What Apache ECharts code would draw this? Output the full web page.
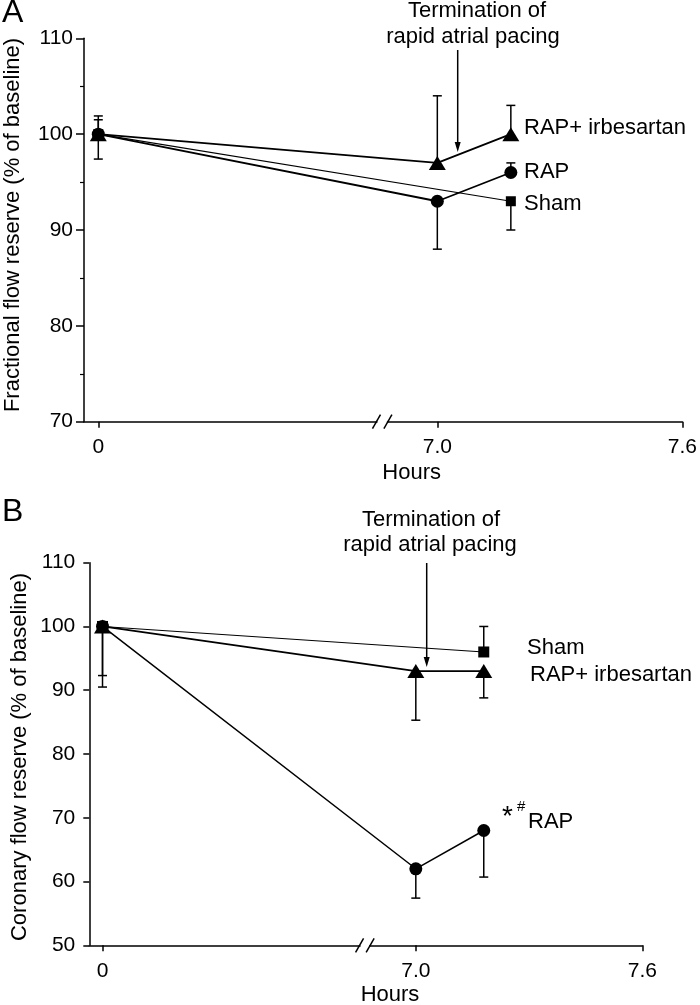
<!DOCTYPE html>
<html>
<head>
<meta charset="utf-8">
<script src="https://cdn.jsdelivr.net/npm/echarts@6/dist/echarts.min.js"></script>
<style>
  html, body { margin: 0; padding: 0; background: #fff; }
  #chart { width: 700px; height: 1005px; }
</style>
</head>
<body>
<div id="chart"></div>
<script>
// ---------------- DATA ----------------
const hours = [0, 7.0, 7.18];
const xTickValues = [0, 7.0, 7.6];
const xTickLabels = ['0', '7.0', '7.6'];

// Panel A: Fractional flow reserve (% of baseline)
const ffrSham = [100, null, 93];
const ffrRAP = [100, 93, 96];
const ffrIrb = [100, 97, 100];
// signed error (SEM) drawn from the mean
const ffrShamErr = [1.5, null, -3];
const ffrRAPErr = [-2.6, -5, 1];
const ffrIrbErr = [1.9, 7, 3];

// Panel B: Coronary flow reserve (% of baseline)
const cfrSham = [100, null, 96];
const cfrRAP = [100, 62, 68];
const cfrIrb = [100, 93, 93];
const cfrShamErr = [null, null, 4];
const cfrRAPErr = [-9.5, -4.6, -7.3];
const cfrIrbErr = [-7.7, -7.7, -4.2];

// ---------------- BROKEN AXIS MAPPING ----------------
// hours 0..7 are compressed into axis units 6.17..7; beyond 7 the axis is linear
const U0 = 6.17;
function toAxis(h) { return h >= 7 ? h : U0 + h * (7 - U0) / 7; }
const AX_MIN = 6.135, AX_MAX = 7.6;
const BREAK_POS = [6.851, 6.879];

const FONT = '"Liberation Sans", Arial, Helvetica, sans-serif';

function lineData(vals) {
  return vals.map((v, i) => [toAxis(hours[i]), v]);
}
function errData(vals, errs) {
  const out = [];
  vals.forEach((v, i) => {
    if (v != null && errs[i] != null) out.push([toAxis(hours[i]), v, v + errs[i]]);
  });
  return out;
}

const tickU = xTickValues.map(toAxis);
function tickLabel(v) {
  let best = 0;
  tickU.forEach((u, i) => { if (Math.abs(u - v) < Math.abs(tickU[best] - v)) best = i; });
  return xTickLabels[best];
}

function xAxisCfg(gridIndex) {
  return {
    type: 'value', gridIndex, min: AX_MIN, max: AX_MAX,
    splitLine: { show: false },
    axisLine: { show: true, lineStyle: { color: '#000', width: 1.5 } },
    axisTick: { show: true, customValues: tickU, length: 6, lineStyle: { color: '#000', width: 1.5 } },
    axisLabel: { show: true, customValues: tickU, formatter: tickLabel, color: '#000',
                 fontSize: 21, fontFamily: FONT, margin: 15 }
  };
}
function yAxisCfg(gridIndex, min, max, minor, tickLen, margin) {
  return {
    type: 'value', gridIndex, min, max, interval: 10,
    splitLine: { show: false },
    axisLine: { show: true, lineStyle: { color: '#000', width: 1.5 } },
    axisTick: { show: true, length: tickLen, lineStyle: { color: '#000', width: 1.5 } },
    minorTick: { show: minor, splitNumber: 2, length: 4, lineStyle: { color: '#000', width: 1.2 } },
    axisLabel: { color: '#000', fontSize: 21, fontFamily: FONT, margin }
  };
}

function lineSeries(name, vals, symbol, size, width, xi) {
  return {
    name, type: 'line', xAxisIndex: xi, yAxisIndex: xi,
    data: lineData(vals), connectNulls: true,
    symbol, symbolSize: size, showAllSymbol: true,
    itemStyle: { color: '#000' },
    lineStyle: { color: '#000', width },
    z: 5, animation: false
  };
}
function errSeries(vals, errs, xi) {
  return {
    type: 'custom', xAxisIndex: xi, yAxisIndex: xi,
    data: errData(vals, errs),
    encode: { x: 0, y: [1, 2] },
    z: 3, animation: false, silent: true,
    renderItem: function (params, api) {
      const p = api.coord([api.value(0), api.value(1)]);
      const e = api.coord([api.value(0), api.value(2)]);
      const w = 4.5;
      const st = { stroke: '#000', lineWidth: 1.5 };
      return { type: 'group', children: [
        { type: 'line', shape: { x1: p[0], y1: p[1], x2: e[0], y2: e[1] }, style: st },
        { type: 'line', shape: { x1: e[0] - w, y1: e[1], x2: e[0] + w, y2: e[1] }, style: st }
      ] };
    }
  };
}

function txt(text, x, y, size, align, extra) {
  return Object.assign({
    type: 'text', z: 100,
    style: { text, x, y, fill: '#000', font: size + 'px ' + FONT,
             textAlign: align || 'left', textVerticalAlign: 'middle' }
  }, extra || {});
}
function arrow(x, y1, y2) {
  return [
    { type: 'line', z: 100, shape: { x1: x, y1: y1, x2: x, y2: y2 - 8 }, style: { stroke: '#000', lineWidth: 1.5 } },
    { type: 'polygon', z: 100, shape: { points: [[x - 3, y2 - 10], [x + 3, y2 - 10], [x, y2]] }, style: { fill: '#000' } }
  ];
}

const TRI = [17, 14];
const option = {
  backgroundColor: '#fff',
  animation: false,
  grid: [
    { left: 84, top: 38.3, width: 599.3, height: 383.4 },
    { left: 89.3, top: 562.7, width: 553, height: 382.6 }
  ],
  xAxis: [xAxisCfg(0), xAxisCfg(1)],
  yAxis: [yAxisCfg(0, 70, 110, true, 8, 11), yAxisCfg(1, 50, 110, false, 6, 14)],
  series: [
    errSeries(ffrSham, ffrShamErr, 0),
    errSeries(ffrRAP, ffrRAPErr, 0),
    errSeries(ffrIrb, ffrIrbErr, 0),
    lineSeries('Sham', ffrSham, 'rect', 10, 1.1, 0),
    lineSeries('RAP', ffrRAP, 'circle', 13, 1.8, 0),
    lineSeries('RAP+ irbesartan', ffrIrb, 'triangle', TRI, 1.8, 0),
    errSeries(cfrSham, cfrShamErr, 1),
    errSeries(cfrRAP, cfrRAPErr, 1),
    errSeries(cfrIrb, cfrIrbErr, 1),
    lineSeries('Sham', cfrSham, 'rect', 11, 1.1, 1),
    lineSeries('RAP', cfrRAP, 'circle', 13, 1.5, 1),
    lineSeries('RAP+ irbesartan', cfrIrb, 'triangle', TRI, 1.8, 1)
  ],
  graphic: []
};

const chart = echarts.init(document.getElementById('chart'), null, { renderer: 'canvas' });
chart.setOption(option);

// ---------------- ANNOTATIONS ----------------
const g = [];
g.push(txt('A', 2, 13, 32));
g.push(txt('B', 2, 512, 32));
g.push(txt('Fractional flow reserve (% of baseline)', 13, 225, 22, 'center', { rotation: Math.PI / 2, x: 0, y: 0 }));
g.push(txt('Coronary flow reserve (% of baseline)', 20, 757, 22, 'center', { rotation: Math.PI / 2 }));
g.push(txt('Hours', 411.7, 473.3, 22, 'center'));
g.push(txt('Hours', 390, 995, 22, 'center'));
g.push(txt('Termination of', 477, 11, 22, 'center'));
g.push(txt('rapid atrial pacing', 473, 37, 22, 'center'));
g.push(txt('Termination of', 431, 520, 22, 'center'));
g.push(txt('rapid atrial pacing', 430, 545, 22, 'center'));
arrow(457.7, 50, 152).forEach(e => g.push(e));
arrow(426.7, 563, 667).forEach(e => g.push(e));
// series name labels
g.push(txt('RAP+ irbesartan', 524, 128, 22));
g.push(txt('RAP', 524, 172, 22));
g.push(txt('Sham', 524, 204, 22));
g.push(txt('Sham', 527, 648, 22));
g.push(txt('RAP+ irbesartan', 530, 675, 22));
g.push(txt('*', 502, 817, 28));
g.push(txt('#', 517, 807, 15));
g.push(txt('RAP', 528, 822, 22));

// rotated texts: set position via x/y so rotation is around the text anchor
g.forEach(e => {
  if (e.rotation) { e.x = e.style.x; e.y = e.style.y; e.style.x = 0; e.style.y = 0; }
});

// axis break marks, placed through the axis scale
[0, 1].forEach(gi => {
  const pts = BREAK_POS.map(u => chart.convertToPixel({ xAxisIndex: gi, yAxisIndex: gi }, [u, gi === 0 ? 70 : 50]));
  const y = pts[0][1];
  g.push({ type: 'rect', z: 99, shape: { x: pts[0][0] + 1, y: y - 2.5, width: pts[1][0] - pts[0][0] - 2, height: 5 }, style: { fill: '#fff' } });
  pts.forEach(p => {
    g.push({ type: 'line', z: 100, shape: { x1: p[0] - 4, y1: p[1] + 7, x2: p[0] + 4, y2: p[1] - 7 }, style: { stroke: '#000', lineWidth: 1.5 } });
  });
});

chart.setOption({ graphic: g });
</script>
</body>
</html>
